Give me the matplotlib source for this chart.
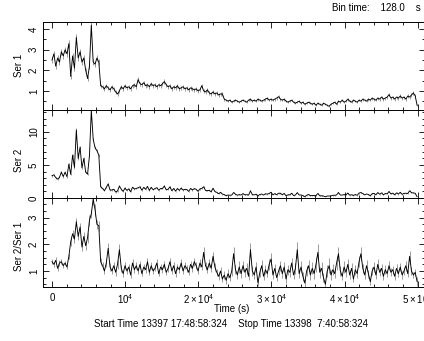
import numpy as np
import matplotlib
matplotlib.use("Agg")
import matplotlib.pyplot as plt
from matplotlib.ticker import MultipleLocator, FixedLocator

plt.rcParams['font.family'] = ['Liberation Sans', 'DejaVu Sans']
plt.rcParams['mathtext.fontset'] = 'custom'
plt.rcParams['mathtext.rm'] = 'Liberation Sans'

# Light curve values (one value per 256 s)
bin_step = 256.0
bin_time = 128.0

ser1 = [
    2.5, 2.8, 2.2, 2.6, 2.4, 2.9, 2.7, 3.0, 2.8, 3.3,
    1.7, 2.7, 2.1, 3.6, 2.6, 2.9, 2.4, 2.6, 2.0, 1.6,
    2.2, 4.2, 2.4, 2.3, 2.6, 2.4, 1.25, 1.2, 1.1, 1.25,
    1.15, 1.05, 1.2, 1.1, 0.95, 0.85, 1.0, 1.2, 1.1, 1.25,
    1.15, 1.2, 1.1, 1.25, 1.3, 1.2, 1.55, 1.35, 1.3, 1.4,
    1.25, 1.3, 1.2, 1.35, 1.25, 1.3, 1.2, 1.3, 1.25, 1.35,
    1.45, 1.3, 1.2, 1.25, 1.1, 1.2, 1.15, 1.25, 1.1, 1.15,
    1.2, 1.1, 1.15, 1.05, 1.15, 1.1, 1.05, 1.1, 1.0, 1.05,
    1.25, 1.0, 0.95, 1.05, 0.9, 0.85, 0.95, 0.85, 0.9, 0.8,
    0.85, 0.85, 0.6, 0.55, 0.5, 0.55, 0.45, 0.5, 0.55, 0.5,
    0.45, 0.5, 0.55, 0.5, 0.45, 0.55, 0.6, 0.5, 0.55, 0.5,
    0.6, 0.55, 0.5, 0.55, 0.6, 0.65, 0.55, 0.6, 0.55, 0.6,
    0.65, 0.72, 0.6, 0.55, 0.6, 0.5, 0.45, 0.5, 0.55, 0.45,
    0.4, 0.45, 0.5, 0.4, 0.45, 0.35, 0.4, 0.45, 0.4, 0.35,
    0.4, 0.3, 0.4, 0.35, 0.3, 0.4, 0.35, 0.3, 0.25, 0.35,
    0.4, 0.45, 0.35, 0.5, 0.45, 0.55, 0.45, 0.5, 0.6, 0.5,
    0.45, 0.55, 0.5, 0.45, 0.55, 0.5, 0.6, 0.55, 0.5, 0.6,
    0.55, 0.65, 0.6, 0.55, 0.65, 0.6, 0.7, 0.6, 0.65, 0.7,
    0.82, 0.65, 0.7, 0.6, 0.7, 0.65, 0.75, 0.65, 0.7, 0.6,
    0.75, 0.7, 0.8, 0.9, 0.75, 0.3,
]

ratio = [
    1.35, 1.25, 1.4, 1.1, 1.3, 1.35, 1.2, 1.3, 1.15, 1.55,
    2.1, 2.4, 2.2, 2.85, 2.3, 2.65, 1.9, 2.3, 1.95, 2.25,
    2.9, 3.15, 3.7, 3.3, 2.75, 2.7, 1.35, 1.2, 1.0, 1.3,
    1.85, 1.15, 1.0, 1.2, 0.95, 1.25, 1.8, 1.1, 0.9, 1.2,
    1.0, 1.15, 0.85, 1.3, 1.05, 1.2, 1.0, 1.25, 0.9, 1.15,
    1.05, 1.35, 0.95, 1.2, 1.0, 1.1, 1.3, 0.9, 1.15, 1.05,
    1.25, 0.95, 1.1, 1.35, 1.0, 1.2, 0.9, 1.15, 1.05, 1.3,
    1.0, 1.2, 1.1, 0.95, 1.25, 1.1, 1.35, 1.2, 1.0, 1.3,
    1.15, 1.7, 1.2, 1.05, 1.3, 1.1, 1.55, 1.15, 0.95, 0.8,
    1.0, 0.7, 0.85, 0.65, 0.9, 0.75, 1.0, 1.65, 1.05, 0.85,
    1.15, 0.9, 1.2, 0.95, 1.1, 0.8, 1.8, 1.0, 0.85, 1.15,
    0.55, 0.95, 1.2, 0.8, 1.05, 0.9, 1.25, 1.45, 0.85, 1.1,
    0.75, 1.0, 1.2, 0.9, 1.15, 0.7, 1.05, 0.95, 1.3, 0.85,
    1.1, 1.8, 0.9, 1.15, 0.8, 0.55, 1.0, 1.2, 0.85, 1.1,
    0.9, 1.25, 1.7, 0.95, 1.1, 0.75, 0.5, 1.0, 1.2, 0.85,
    1.05, 0.9, 1.3, 1.65, 1.0, 0.8, 1.15, 0.95, 1.25, 0.85,
    1.1, 0.7, 1.05, 0.9, 1.35, 1.65, 1.1, 0.85, 1.2, 0.9,
    0.6, 1.0, 1.15, 0.85, 1.25, 0.95, 1.1, 0.8, 1.05, 0.9,
    1.2, 0.95, 1.05, 0.8, 1.1, 0.9, 1.15, 0.85, 1.0, 1.2,
    0.9, 1.55, 1.0, 0.85, 0.95, 0.6,
]

panel_labels = ["Ser 1", "Ser 2", "Ser 2/Ser 1"]
panel_ylims = [(0.07, 4.35), (0.0, 13.3), (0.4, 3.74)]
panel_majors = [[1, 2, 3, 4], [0, 5, 10], [1, 2, 3]]
panel_minors = [0.5, 1.0, 0.25]
x_tick_vals = [0, 1e4, 2e4, 3e4, 4e4, 5e4]
x_tick_labels = ["0", r"$10^4$", r"$2\times10^4$", r"$3\times10^4$",
                 r"$4\times10^4$", r"$5\times10^4$"]

s1 = np.array(ser1)
r21 = np.array(ratio)
s2 = s1 * r21
t = np.arange(len(s1)) * bin_step

# Poisson-like errors from the rates
e1 = np.sqrt(s1 * bin_time) / bin_time
e2 = np.sqrt(s2 * bin_time) / bin_time
er = r21 * np.sqrt((e1 / s1) ** 2 + (e2 / s2) ** 2)

series = [(s1, e1), (s2, e2), (r21, er)]

W, H = 424, 341
fig = plt.figure(figsize=(W / 100, H / 100), dpi=100)

# panel pixel extents (top, bottom)
panel_px = [(22, 110), (110, 198), (198, 287)]
label_y = [65, 160, 246]
left_px, right_px = 43, 425

axes = []
for k, (top, bot) in enumerate(panel_px):
    ax = fig.add_axes([left_px / W, 1 - bot / H, (right_px - left_px) / W, (bot - top) / H])
    y, e = series[k]
    ax.vlines(t, y - e, y + e, color="#8c8c8c", lw=0.6)
    ax.plot(t, y, color="black", lw=0.65)
    ax.set_xlim(-1230, 51000)
    ax.set_ylim(*panel_ylims[k])
    ax.yaxis.set_major_locator(FixedLocator(panel_majors[k]))
    ax.yaxis.set_minor_locator(MultipleLocator(panel_minors[k]))
    ax.xaxis.set_major_locator(FixedLocator(x_tick_vals))
    ax.xaxis.set_minor_locator(MultipleLocator(2000))
    ax.tick_params(which="both", direction="in", top=True, right=True,
                   width=0.6, labelsize=7, colors="black")
    ax.tick_params(which="major", length=4)
    ax.tick_params(which="minor", length=2)
    ax.tick_params(axis="y", labelrotation=90, pad=3)
    for lab in ax.get_yticklabels():
        lab.set_va("center")
    for sp in ax.spines.values():
        sp.set_linewidth(0.7)
    if k < 2:
        ax.set_xticklabels([])
    else:
        ax.set_xticklabels(x_tick_labels)
        ax.tick_params(axis="x", pad=4)
    fig.text(19 / W, 1 - label_y[k] / H, panel_labels[k], rotation=90,
             ha="center", va="center", fontsize=7)
    axes.append(ax)

fig.text(232 / W, 1 - 309 / H, "Time (s)", ha="center", va="center", fontsize=7)
fig.text(231 / W, 1 - 324 / H,
         "Start Time 13397 17:48:58:324    Stop Time 13398  7:40:58:324",
         ha="center", va="center", fontsize=7)
fig.text(332 / W, 1 - 8 / H, "Bin time:    128.0    s", ha="left", va="center", fontsize=7)

fig.savefig("out.png", dpi=100)
